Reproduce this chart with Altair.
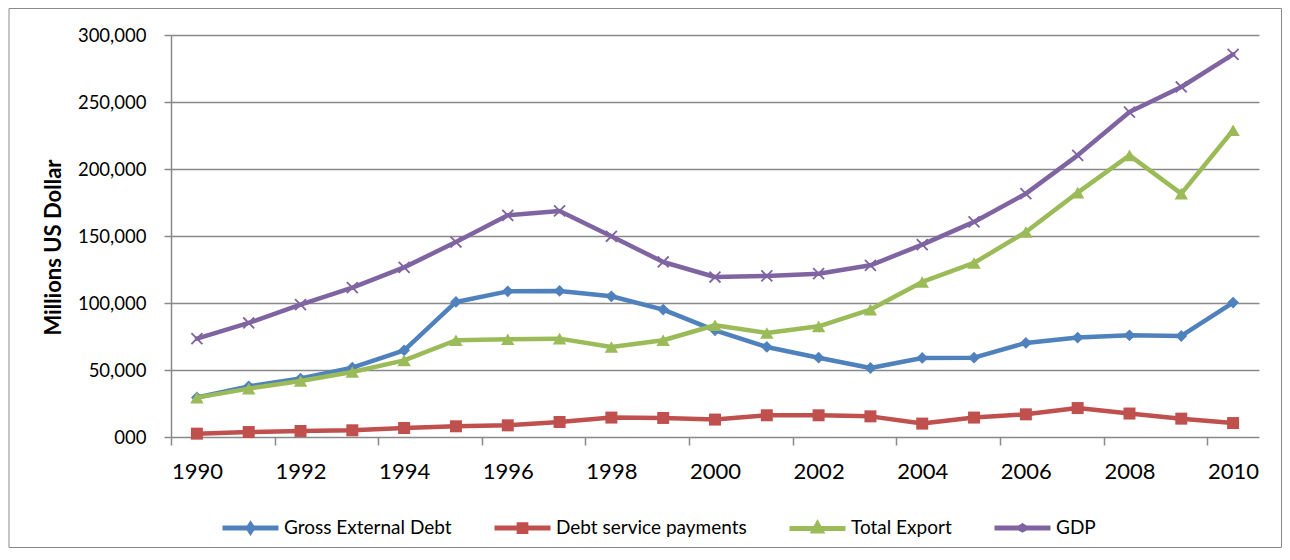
import altair as alt
import pandas as pd

years = list(range(1990, 2011))
series_names = ["Gross External Debt", "Debt service payments", "Total Export", "GDP"]
series_colors = ["#4F81BD", "#C0504D", "#9BBB59", "#8064A2"]

gross = [29500, 37800, 43600, 51800, 64700, 100800, 108700, 109000, 105000, 95100, 79600,
         67200, 59200, 51500, 59000, 59200, 70200, 74200, 75900, 75400, 100300]
debt_service = [2500, 3700, 4500, 5000, 6700, 8000, 8700, 11200, 14500, 14200, 13000,
                16200, 16200, 15400, 10000, 14500, 16900, 21600, 17500, 13700, 10400]
export = [29400, 36100, 41800, 48500, 57200, 72200, 72900, 73400, 67200, 72200, 83400,
          77600, 82600, 95100, 115700, 129900, 153000, 182400, 210200, 181600, 228900]
gdp = [73400, 85100, 98800, 111500, 126600, 145500, 165400, 168700, 149800, 130600, 119400,
       120200, 121900, 128100, 143600, 160500, 181600, 210200, 242500, 261200, 285600]

x_tick_values = [1989.5 + 2 * i for i in range(11)]
y_tick_values = list(range(0, 300001, 50000))

rows = []
for name, vals in zip(series_names, [gross, debt_service, export, gdp]):
    for yr, v in zip(years, vals):
        rows.append({"year": yr, "series": name, "value": v})
df = pd.DataFrame(rows)

FONT = "Lato"
GRID = "#898989"

X_PATH = ("M-0.79,-1L1,0.79L0.79,1L-1,-0.79Z"
          "M-1,0.79L0.79,-1L1,-0.79L-0.79,1Z")
markers = [("diamond", 140), ("square", 144), ("triangle-up", 180), (X_PATH, 150)]

legend_paths = [
    "M-1,0L1,0M-0.08,0L0,-0.12L0.08,0L0,0.12Z",
    "M-1,0L1,0M-0.12,-0.12L0.12,-0.12L0.12,0.12L-0.12,0.12Z",
    "M-1,0L1,0M-0.13,0.09L0,-0.15L0.13,0.09Z",
    "M-1,0L1,0M-0.07,-0.13L0.07,0.13M-0.07,0.13L0.07,-0.13",
]

x_axis = alt.Axis(values=x_tick_values, labelExpr="datum.value + 0.5", labelOffset=25.9,
                  labelFlush=False, labelOverlap=False, grid=False, domain=False,
                  ticks=True, tickSize=8, tickColor=GRID, tickWidth=1.5,
                  labelFont=FONT, labelFontSize=22, labelColor="#000", labelPadding=16,
                  title=None)
y_axis = alt.Axis(values=y_tick_values,
                  labelExpr="datum.value == 0 ? '000' : format(datum.value, ',')",
                  grid=True, gridColor=GRID, gridWidth=1.5,
                  domain=True, domainColor=GRID, domainWidth=1.5,
                  ticks=True, tickSize=7, tickColor=GRID, tickWidth=1.5,
                  labelFont=FONT, labelFontSize=18.5, labelColor="#000", labelPadding=18,
                  title="Millions US Dollar", titleFont=FONT, titleFontSize=22,
                  titleFontWeight="bold", titleColor="#000", titleX=-106, titleY=212,
                  titleAngle=270, titleAlign="center", titleBaseline="bottom")

x_enc = alt.X("year:Q", scale=alt.Scale(domain=[1989.5, 2010.5], nice=False, zero=False), axis=x_axis)
y_enc = alt.Y("value:Q", scale=alt.Scale(domain=[0, 300000], nice=False), axis=y_axis)

border = alt.Chart(pd.DataFrame({"k": [0]})).mark_rect(
    fill="transparent", stroke="#8a8a8a", strokeWidth=1
).encode(x=alt.value(-162), x2=alt.value(1110.5), y=alt.value(-26.5), y2=alt.value(512.5))

layers = [border]
for name, color, (shape, size) in zip(series_names, series_colors, markers):
    sub = alt.Chart(df).transform_filter(alt.datum.series == name)
    layers.append(sub.mark_line(color=color, strokeWidth=4.5, strokeJoin="round",
                                strokeCap="round").encode(x=x_enc, y=y_enc))
    layers.append(sub.mark_point(shape=shape, filled=True, size=size, color=color,
                                 opacity=1, strokeWidth=0).encode(x=x_enc, y=y_enc))

leg = alt.Legend(title=None, orient="none", legendX=49, legendY=462, direction="horizontal",
                 columns=4, symbolSize=3136, symbolStrokeWidth=5, symbolOpacity=1,
                 labelFont=FONT, labelFontSize=19, labelColor="#000", labelOffset=3,
                 columnPadding=32, padding=0, labelLimit=0)

legend_layer = alt.Chart(df).transform_filter("false").mark_point(
    filled=True, opacity=1, strokeWidth=5
).encode(
    fill=alt.Fill("series:N", scale=alt.Scale(domain=series_names, range=series_colors), legend=leg),
    stroke=alt.Stroke("series:N", scale=alt.Scale(domain=series_names, range=series_colors), legend=leg),
    shape=alt.Shape("series:N", scale=alt.Scale(domain=series_names, range=legend_paths), legend=leg),
)
layers.append(legend_layer)

chart = alt.layer(*layers).properties(
    width=1088, height=402,
    autosize=alt.AutoSizeParams(type="none"),
    padding={"left": 163, "top": 27, "right": 23, "bottom": 111},
    background="white",
).configure_view(strokeWidth=0)

chart.save("out.html", embed_options={"renderer": "svg", "actions": False})
